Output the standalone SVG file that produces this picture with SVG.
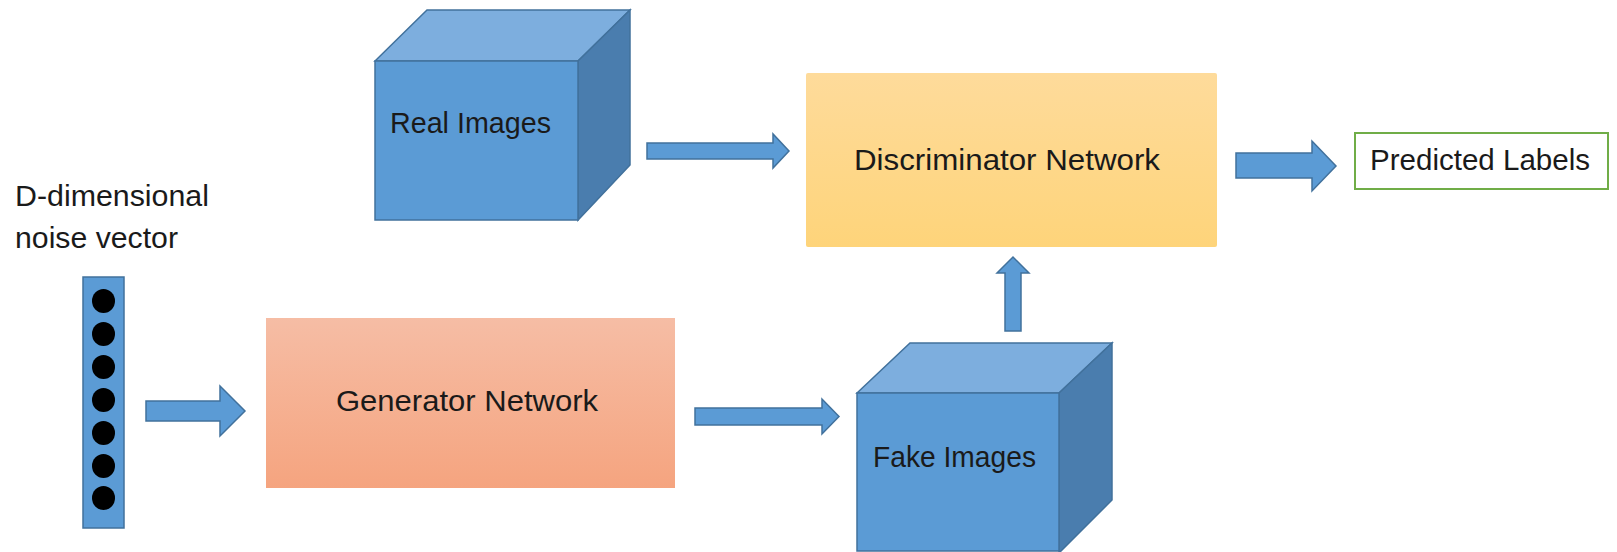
<svg xmlns="http://www.w3.org/2000/svg" width="1617" height="552" viewBox="0 0 1617 552">
<defs>
<linearGradient id="gDisc" x1="0" y1="0" x2="0" y2="1"><stop offset="0" stop-color="#FEDB9B"/><stop offset="1" stop-color="#FED47A"/></linearGradient>
<linearGradient id="gGen" x1="0" y1="0" x2="0" y2="1"><stop offset="0" stop-color="#F6BDA5"/><stop offset="1" stop-color="#F5A47F"/></linearGradient>
</defs>
<style>
text{font-family:"Liberation Sans",Arial,sans-serif;font-size:30px;fill:#1a1a1a}
.front{fill:#5B9BD5;stroke:#41719C;stroke-width:1.5}
.top{fill:#7DAEDE;stroke:#41719C;stroke-width:1.5}
.side{fill:#4A7DAE;stroke:#41719C;stroke-width:1.5}
.arrow{fill:#5B9BD5;stroke:#41719C;stroke-width:1.5;stroke-linejoin:miter}
.dot{fill:#000}
</style>
<rect width="1617" height="552" fill="#fff"/>

<g id="noise-label">
<text x="15" y="206" textLength="194" lengthAdjust="spacingAndGlyphs">D-dimensional</text>
<text x="15" y="248" textLength="163" lengthAdjust="spacingAndGlyphs">noise vector</text>
</g>

<g id="noise-vector">
<rect x="83" y="277" width="41" height="251" class="front"/>
<ellipse class="dot" cx="103.5" cy="301" rx="11.5" ry="12"/>
<ellipse class="dot" cx="103.5" cy="334" rx="11.5" ry="12"/>
<ellipse class="dot" cx="103.5" cy="367" rx="11.5" ry="12"/>
<ellipse class="dot" cx="103.5" cy="400" rx="11.5" ry="12"/>
<ellipse class="dot" cx="103.5" cy="433" rx="11.5" ry="12"/>
<ellipse class="dot" cx="103.5" cy="466" rx="11.5" ry="12"/>
<ellipse class="dot" cx="103.5" cy="498" rx="11.5" ry="12"/>
</g>

<g id="real-images">
<polygon class="top" points="375,61 427,10 630,10 578,61"/>
<polygon class="side" points="578,61 630,10 630,165 578,220"/>
<rect class="front" x="375" y="61" width="203" height="159"/>
<text x="390" y="133" textLength="161" lengthAdjust="spacingAndGlyphs">Real Images</text>
</g>

<g id="discriminator">
<rect x="806" y="73" width="411" height="174" rx="2" fill="url(#gDisc)"/>
<text x="854" y="170" textLength="306" lengthAdjust="spacingAndGlyphs">Discriminator Network</text>
</g>

<g id="predicted-labels">
<rect x="1355" y="133" width="253" height="56" fill="#fff" stroke="#70AD47" stroke-width="2"/>
<text x="1370" y="170" textLength="220" lengthAdjust="spacingAndGlyphs">Predicted Labels</text>
</g>

<g id="generator">
<rect x="266" y="318" width="409" height="170" fill="url(#gGen)"/>
<text x="336" y="411" textLength="262" lengthAdjust="spacingAndGlyphs">Generator Network</text>
</g>

<g id="fake-images">
<polygon class="top" points="857,393 910,343 1112,343 1059,393"/>
<polygon class="side" points="1059,393 1112,343 1112,500 1059,553"/>
<rect class="front" x="857" y="393" width="202" height="158"/>
<text x="873" y="467" textLength="163" lengthAdjust="spacingAndGlyphs">Fake Images</text>
</g>

<g id="connectors">
<polygon class="arrow" points="146,401 220,401 220,386 245,411 220,436 220,421 146,421"/>
<polygon class="arrow" points="695,408 822,408 822,399 839,416.5 822,434 822,425 695,425"/>
<polygon class="arrow" points="647,143 773,143 773,134 789,151 773,168 773,159 647,159"/>
<polygon class="arrow" points="1236,153 1312,153 1312,141 1336,166 1312,191 1312,178 1236,178"/>
<polygon class="arrow" points="1005,331 1005,273 997,273 1013,257 1029,273 1021,273 1021,331"/>
</g>
</svg>
